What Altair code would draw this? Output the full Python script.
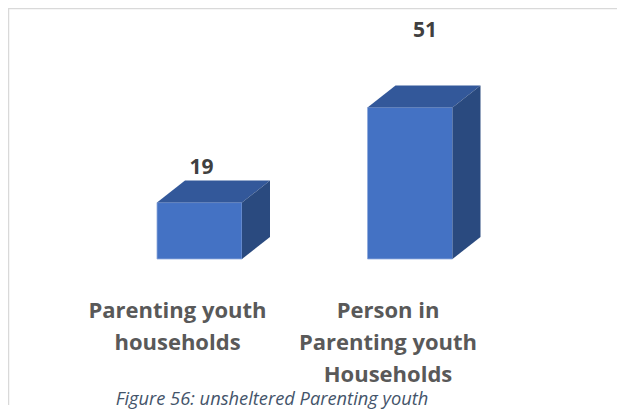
import altair as alt
import pandas as pd

# ---- data ----
categories = ["Parenting youth\nhouseholds", "Person in\nParenting youth\nHouseholds"]
values = [19, 51]
caption = "Figure 56: unsheltered Parenting youth"

# ---- styling (3D look) ----
HW = 0.2019      # half bar width, x units
DX = 0.1330      # depth offset in x units
DY = 7.41        # depth offset in value units
FRONT = "#4472C4"
TOP = "#33589A"
SIDE = "#2A4A7F"
FONT = "Open Sans"

idx = list(range(len(values)))
front = pd.DataFrame({"i": idx, "v": values, "cat": categories})
front["x0"] = front["i"] - HW
front["x1"] = front["i"] + HW
front["zero"] = 0.0

top_rows, side_rows = [], []
for i, v in zip(idx, values):
    top_rows.append({"bar": i, "y": v, "xa": i - HW, "xb": i + HW})
    top_rows.append({"bar": i, "y": v + DY, "xa": i - HW + DX, "xb": i + HW + DX})
    side_rows.append({"bar": i, "x": i + HW, "ya": v, "yb": 0.0})
    side_rows.append({"bar": i, "x": i + HW + DX, "ya": v + DY, "yb": DY})
top_df = pd.DataFrame(top_rows)
side_df = pd.DataFrame(side_rows)

xs = alt.Scale(domain=[-0.90974, 1.98337], nice=False, zero=False)
ys = alt.Scale(domain=[-50.505, 84.51], nice=False, zero=False)
noax = None

front_layer = alt.Chart(front).mark_rect(color=FRONT, stroke="#8FAADC", strokeWidth=0.8).encode(
    x=alt.X("x0:Q", scale=xs, axis=noax), x2="x1:Q",
    y=alt.Y("zero:Q", scale=ys, axis=noax), y2="v:Q",
)

top_layer = alt.Chart(top_df).mark_area(orient="horizontal", color=TOP).encode(
    y=alt.Y("y:Q", scale=ys, axis=noax),
    x=alt.X("xa:Q", scale=xs, axis=noax), x2="xb:Q",
    detail="bar:N",
)

side_layer = alt.Chart(side_df).mark_area(color=SIDE).encode(
    x=alt.X("x:Q", scale=xs, axis=noax),
    y=alt.Y("ya:Q", scale=ys, axis=noax), y2="yb:Q",
    detail="bar:N",
)

lab_base = alt.Chart(front)
def val_label(i, dx, dy):
    return lab_base.transform_filter(f"datum.i == {i}").mark_text(
        font=FONT, fontWeight="bold", fontSize=21, color="#404040", dy=dy, dx=dx
    ).encode(x=alt.X("i:Q", scale=xs, axis=noax), y=alt.Y("v:Q", scale=ys, axis=noax), text="v:Q")

cat_labels = lab_base.mark_text(
    font=FONT, fontWeight="bold", fontSize=22, color="#595959",
    lineBreak="\n", lineHeight=32, baseline="alphabetic", align="center", dx=-22
).encode(x=alt.X("i:Q", scale=xs, axis=noax), y=alt.value(310), text="cat:N")

cap_df = pd.DataFrame({"t": [caption]})
cap = alt.Chart(cap_df).mark_text(
    font=FONT, fontStyle="italic", fontSize=18.3, color="#44546A", baseline="alphabetic"
).encode(x=alt.value(264), y=alt.value(397), text="t:N")

frame_top = alt.Chart(cap_df).mark_rule(color="#D9D9D9", strokeWidth=1.5).encode(
    x=alt.value(0), x2=alt.value(609), y=alt.value(0.5))
frame_left = alt.Chart(cap_df).mark_rule(color="#D9D9D9", strokeWidth=1.5).encode(
    x=alt.value(0.5), y=alt.value(0), y2=alt.value(397))

chart = alt.layer(
    frame_top, frame_left, front_layer, top_layer, side_layer,
    val_label(0, 2, -35), val_label(1, 15, -77),
    cat_labels, cap
).properties(
    width=609, height=401, autosize=alt.AutoSizeParams(type="none"), padding=0, background="white"
).configure_view(stroke=None)

chart.save("out.html", embed_options={"renderer": "svg", "actions": False})
